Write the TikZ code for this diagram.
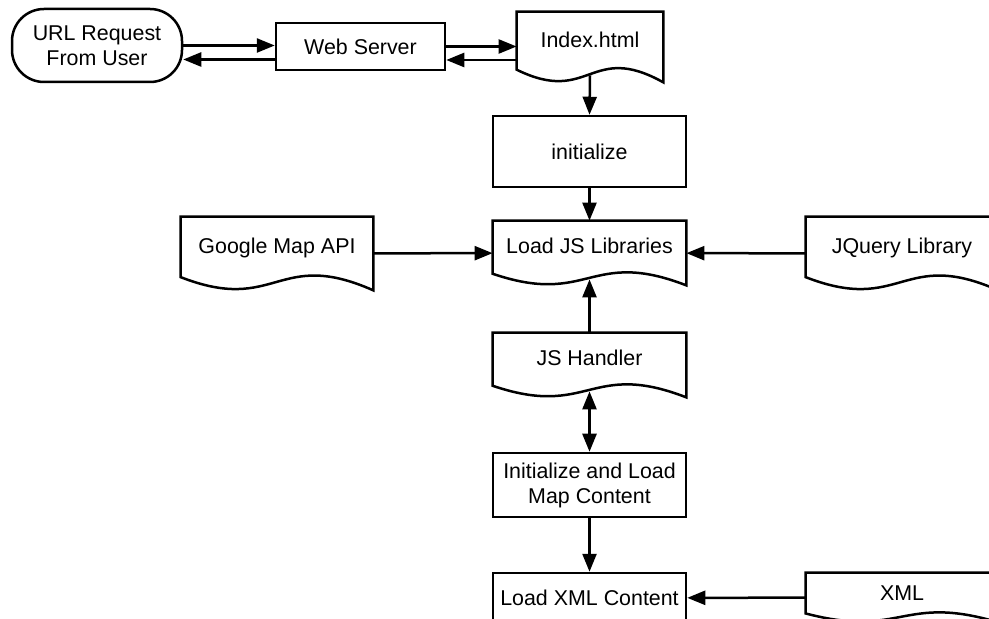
\documentclass[tikz,border=0pt]{standalone}
\usepackage{fontspec}
\setmainfont{Liberation Sans}
\usetikzlibrary{arrows.meta,calc,positioning}

\tikzset{
  every node/.style={font=\fontsize{10.7}{12.5}\selectfont},
  proc/.style={draw, line width=1.25pt, rectangle, align=center, inner sep=0pt},
  term/.style={proc, rounded corners=16pt},
  doc/.style={rectangle, inner sep=0pt, text height=8pt, text depth=7.5pt,
    append after command={\pgfextra{\let\docnode\tikzlastnode
      \draw[line width=1.25pt] (\docnode.north west) -- (\docnode.north east) -- (\docnode.south east)
        .. controls ($(\docnode.north)!0.42!(\docnode.south)$) and ($(\docnode.north)!1.33!(\docnode.south)$)
        .. ($(\docnode.north west)!0.82!(\docnode.south west)$) -- cycle;}}},
  arr/.style={line width=1.25pt, >={Triangle[length=9pt,width=7pt]}},
}

\begin{document}
\begin{tikzpicture}[x=0.5pt,y=-0.5pt]
\useasboundingbox (0,0) rectangle (989,619);
\clip (0,0) rectangle (989,619);
\node[term, minimum width=85pt, minimum height=36.5pt] (url) at (97,45.5) {URL Request\\From User};
\node[proc, minimum width=84.5pt, minimum height=23.5pt] (web) at (360.5,46.5) {Web Server};
\node[doc, minimum width=73pt, minimum height=35pt] (index) at (590,47) {Index.html};
\node[proc, minimum width=96.5pt, minimum height=35.5pt] (init) at (589.5,151.5) {initialize};
\node[doc, minimum width=96.5pt, minimum height=32pt] (ljs) at (589.5,253) {Load JS Libraries};
\node[doc, minimum width=96pt, minimum height=36.5pt] (gmap) at (277,253.5) {Google Map API};
\node[doc, minimum width=96pt, minimum height=36.5pt] (jq) at (902,253.5) {JQuery Library};
\node[doc, minimum width=96.5pt, minimum height=32pt] (jsh) at (589.5,365) {JS Handler};
\node[proc, minimum width=96.5pt, minimum height=32pt] (iml) at (589.5,485) {Initialize and Load\\Map Content};
\node[proc, minimum width=96.5pt, minimum height=25pt] (lxml) at (589.5,598) {Load XML Content};
\node[doc, minimum width=96pt, minimum height=24.5pt, text depth=5pt] (xml) at (902,597.5) {XML};
\path[arr,->]
(url.east) edge (url.east -| web.west)
([yshift=-6.5pt]web.west) edge ([yshift=-6.5pt]web.west -| url.east)
(web.east) edge (web.east -| index.west)
([yshift=-6.5pt]index.west) edge ([yshift=-6.5pt]index.west -| web.east)
([yshift=3.5pt]index.south) edge (init.north)
(init) edge (ljs)
(gmap) edge (ljs)
(jq) edge (ljs)
(jsh.north) edge ([yshift=3pt]ljs.south)
([yshift=3pt]jsh.south) edge[<->] (iml.north)
(iml) edge (lxml)
(xml) edge (lxml);
\end{tikzpicture}
\end{document}
